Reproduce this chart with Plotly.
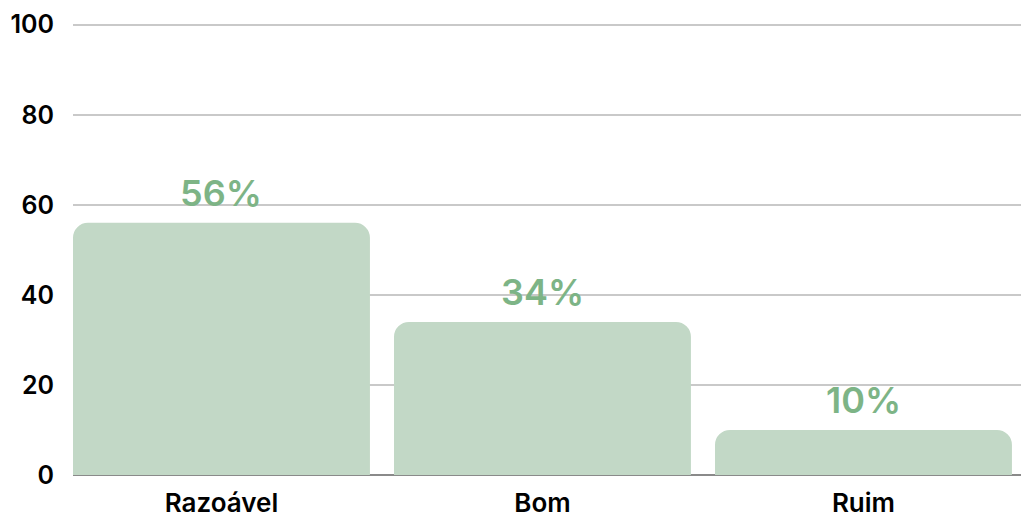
import plotly.graph_objects as go

categories = ["Razoável", "Bom", "Ruim"]
values = [56, 34, 10]
labels = ["56%", "34%", "10%"]
y_ticks = [0, 20, 40, 60, 80, 100]

BAR_COLOR = "#c2d8c6"
LABEL_COLOR = "#7db486"
FONT = "Inter"

bar_width = 0.925
x_idx = list(range(len(categories)))

fig = go.Figure(
    go.Bar(
        x=x_idx,
        y=values,
        width=bar_width,
        marker=dict(color=BAR_COLOR, line=dict(width=0)),
        hoverinfo="skip",
    )
)

for xi, v, lab in zip(x_idx, values, labels):
    fig.add_annotation(
        x=xi, y=v, text=lab, showarrow=False,
        yanchor="bottom", yshift=6,
        font=dict(family=FONT, size=36, color=LABEL_COLOR, weight=600),
    )

plot_left, plot_w = 73, 1021 - 73
unit_px = 321.0
x0 = -bar_width / 2
x1 = x0 + plot_w / unit_px

fig.update_layout(
    width=1021,
    height=518,
    margin=dict(l=plot_left, r=0, t=22, b=41),
    paper_bgcolor="white",
    plot_bgcolor="white",
    barcornerradius=15,
    showlegend=False,
    font=dict(family=FONT, color="#000000"),
    xaxis=dict(
        range=[x0, x1],
        tickmode="array",
        tickvals=x_idx,
        ticktext=categories,
        tickfont=dict(family=FONT, size=26, color="#000000", weight=600),
        showgrid=False,
        zeroline=False,
        showline=False,
        ticks="",
        ticklabelstandoff=10,
        fixedrange=True,
    ),
    yaxis=dict(
        range=[0, 100.6],
        tickmode="array",
        tickvals=y_ticks,
        tickfont=dict(family=FONT, size=25, color="#000000", weight=600),
        showgrid=True,
        gridcolor="#c9c9c9",
        gridwidth=1.5,
        zeroline=True,
        zerolinecolor="#8a8a8a",
        zerolinewidth=1.5,
        showline=False,
        ticks="",
        ticklabelstandoff=18,
        fixedrange=True,
    ),
)

fig.write_html("out.html")
